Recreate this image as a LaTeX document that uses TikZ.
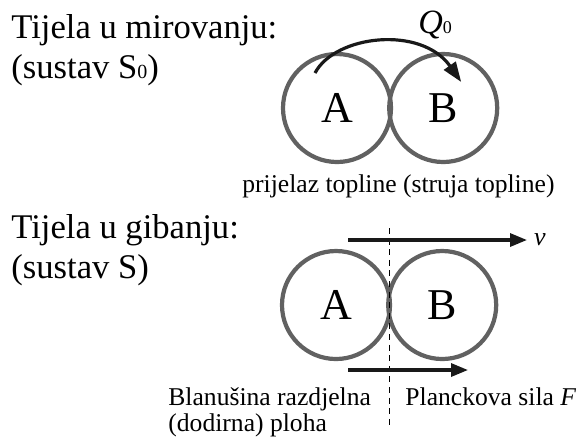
\documentclass[tikz,border=0pt]{standalone}
\usepackage{fontspec}
\setmainfont{Liberation Serif}
\usetikzlibrary{arrows.meta, positioning, calc}

\begin{document}
\begin{tikzpicture}[
        x=0.5pt, y=-0.5pt,
        tijelo/.style={
            circle,
            minimum size=54pt,
            inner sep=0pt,
            draw=black!62,
            line width=2.1pt,
            font=\fontsize{22}{22}\selectfont
        },
        naslov/.style={
            anchor=base west,
            inner sep=0pt,
            font=\fontsize{17.3}{20}\selectfont
        },
        oznaka/.style={
            anchor=base west,
            inner sep=0pt,
            font=\fontsize{12.8}{15}\selectfont
        },
        strelica/.style={
            -{Triangle[length=8.5pt, width=6.5pt]},
            line width=1.6pt,
            black!90
        }
    ]
        \useasboundingbox (0,0) rectangle (581,441);

        % tijela u mirovanju
        \node[naslov] (mir) at (11,38) {Tijela u mirovanju:};
        \node[naslov] (mirS) at (11,78) {(sustav S{\fontsize{10}{10}\selectfont 0})};
        \node[tijelo] (tA) at (337,108) {A};
        \node[tijelo, right=-3pt of tA] (tB) {B};
        \node[anchor=base west, inner sep=0pt, font=\fontsize{17}{17}\selectfont] (Q) at (418,33)
            {\textit{Q}{\fontsize{9}{9}\selectfont 0}};
        \draw[strelica, -{Triangle[length=10pt, width=7pt]}]
            ($(tA)+(-22,-35)$) .. controls +(20,-38) and +(-40,-57) .. ($(tB)+(18,-26)$);
        \node[oznaka] (prijelaz) at (242,192) {prijelaz topline (struja topline)};

        % tijela u gibanju
        \node[naslov] (gib) at (11,238) {Tijela u gibanju:};
        \node[naslov] (gibS) at (11,278) {(sustav S)};
        \node[tijelo] (gA) at (336,305) {A};
        \node[tijelo, right=-3pt of gA] (gB) {B};
        \coordinate (kontakt) at ($(gA)!0.5!(gB)$);
        \draw[dash pattern=on 3pt off 2.3pt, line width=0.6pt]
            ($(kontakt)+(0,-77)$) -- ($(kontakt)+(0,120)$);

        \node[anchor=base west, font=\fontsize{13}{13}\selectfont\itshape] (v) at (527,245) {v};
        \coordinate (vpoc) at (348,240);
        \draw[strelica] (vpoc) -- (vpoc -| v.west);

        \coordinate (Fpoc) at (348,370);
        \coordinate (Fkraj) at (468,370);
        \draw[strelica] (Fpoc) -- (Fkraj);

        \node[oznaka] (razdjelna) at (168,405) {Blanušina razdjelna};
        \node[oznaka] (ploha) at (168,431) {(dodirna) ploha};
        \node[oznaka] (sila) at (405,405) {Planckova sila \textit{F}};
    \end{tikzpicture}
\end{document}
